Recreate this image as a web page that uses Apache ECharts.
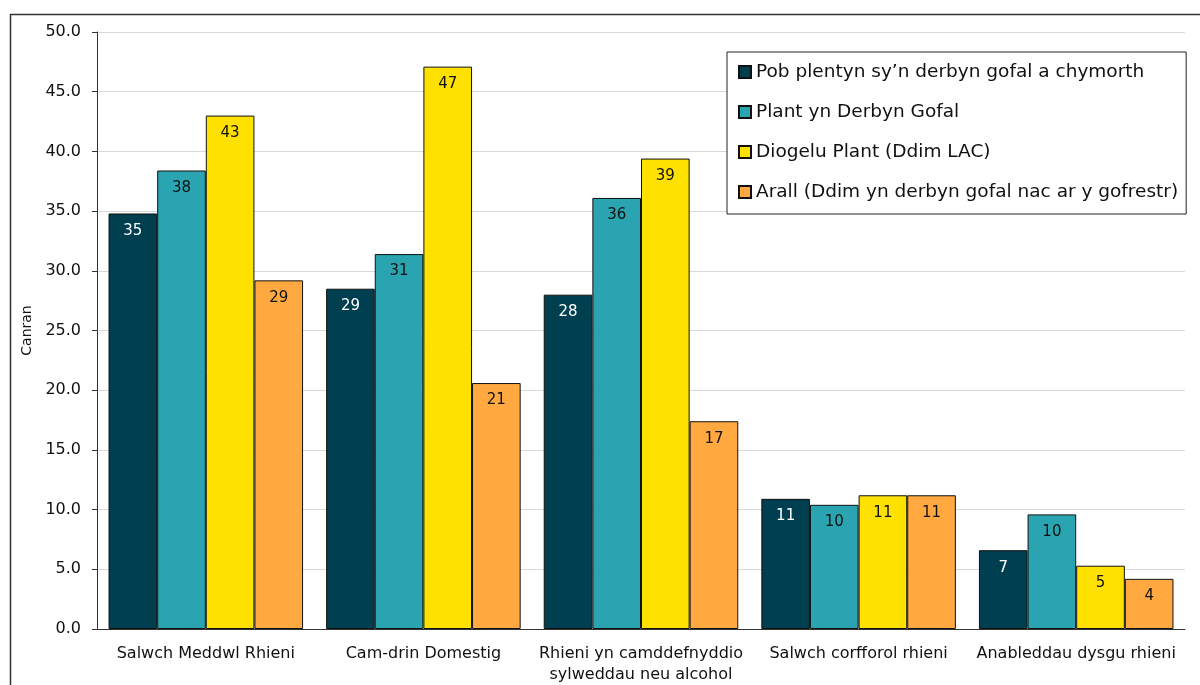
<!DOCTYPE html>
<html><head><meta charset="utf-8">
<script src="https://cdn.jsdelivr.net/npm/echarts@6/dist/echarts.min.js"></script>
<style>html,body{margin:0;padding:0;background:#fff}#c{width:1200px;height:685px}</style>
</head><body><div id="c"></div>
<script>
const categories = ['Salwch Meddwl Rhieni', 'Cam-drin Domestig', 'Rhieni yn camddefnyddio\nsylweddau neu alcohol', 'Salwch corfforol rhieni', 'Anableddau dysgu rhieni'];
const seriesNames = ['Pob plentyn sy\u2019n derbyn gofal a chymorth', 'Plant yn Derbyn Gofal', 'Diogelu Plant (Ddim LAC)', 'Arall (Ddim yn derbyn gofal nac ar y gofrestr)'];
const pobPlentyn = [34.8, 28.5, 28.0, 10.9, 6.6];
const plantGofal = [38.4, 31.4, 36.1, 10.4, 9.6];
const diogelu = [43.0, 47.1, 39.4, 11.2, 5.3];
const arall = [29.2, 20.6, 17.4, 11.2, 4.2];
const yTicks = ['0.0','5.0','10.0','15.0','20.0','25.0','30.0','35.0','40.0','45.0','50.0'];

const colors = ['#003F50', '#2AA4B0', '#FFE100', '#FFA940'];
const labelColors = ['#ffffff', '#111111', '#111111', '#111111'];
const FONT = 'DejaVu Sans';
const data = [pobPlentyn, plantGofal, diogelu, arall];

const chart = echarts.init(document.getElementById('c'));
chart.setOption({
  animation: false,
  textStyle: {fontFamily: FONT},
  graphic: [{type: 'rect', shape: {x: 10.5, y: 14.5, width: 1300, height: 800}, style: {fill: 'none', stroke: '#333', lineWidth: 1.5}, silent: true, z: -1}],
  grid: {left: 97, right: 15, top: 32, bottom: 53},
  legend: {
    orient: 'vertical', left: 727, top: 52,
    backgroundColor: '#fff', borderColor: '#222', borderWidth: 1,
    padding: [10, 8, 12, 11], itemGap: 20, itemWidth: 12, itemHeight: 12,
    textStyle: {fontFamily: FONT, fontSize: 18.5, color: '#111', lineHeight: 20},
    icon: 'rect', data: seriesNames
  },
  xAxis: {
    type: 'category', data: categories,
    axisLine: {lineStyle: {color: '#333', width: 1}},
    axisTick: {show: false},
    axisLabel: {fontFamily: FONT, fontSize: 16, color: '#111', lineHeight: 21, margin: 14, interval: 0}
  },
  yAxis: {
    type: 'value', min: 0, max: 50, interval: 5,
    name: 'Canran', nameLocation: 'middle', nameRotate: 90, nameGap: 60,
    nameTextStyle: {fontFamily: FONT, fontSize: 14, color: '#111'},
    axisLine: {show: true, lineStyle: {color: '#333'}},
    axisTick: {show: true, length: 5, lineStyle: {color: '#333'}},
    axisLabel: {fontFamily: FONT, fontSize: 16, color: '#111', margin: 16, formatter: v => yTicks[Math.round(v / 5)]},
    splitLine: {lineStyle: {color: '#D9D9D9'}}
  },
  series: data.map((d, i) => ({
    name: seriesNames[i], type: 'bar', data: d,
    barGap: '0%', barCategoryGap: '10.6%',
    itemStyle: {color: colors[i], borderColor: '#111', borderWidth: 1},
    label: {show: true, position: 'insideTop', distance: 10, fontFamily: FONT, fontSize: 15, color: labelColors[i],
      formatter: p => Math.round(p.value)}
  }))
});
</script></body></html>
